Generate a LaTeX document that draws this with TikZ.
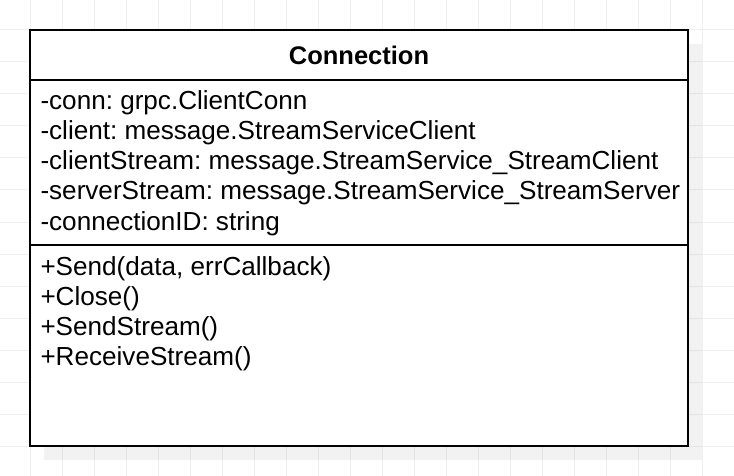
\documentclass[tikz,border=0pt]{standalone}
\usepackage{fontspec}
\setmainfont{Liberation Sans}
\usetikzlibrary{positioning}
\frenchspacing

\begin{document}
\begin{tikzpicture}[x=1pt,y=-1pt,
	every node/.style={inner sep=0pt,outer sep=0pt},
	member/.style={anchor=base west,font=\fontsize{26.1}{30}\selectfont},
	classname/.style={anchor=base,font=\fontsize{25.5}{30}\selectfont\bfseries}]
	%% page and background grid
	\useasboundingbox (0,0) rectangle (734,476);
	\fill[white] (0,0) rectangle (734,476);
	\foreach \g in {-2,30,...,734} {
		\draw[black!6,line width=1pt] (\g,0) -- (\g,476);
	}
	\foreach \g in {-2,30,...,478} {
		\draw[black!6,line width=1pt] (0,\g) -- (734,\g);
	}

	% shadow of the class box
	\fill[black,opacity=0.05] (44,44) rectangle (702,460);

	% class box
	\node[draw,fill=white,line width=2pt,minimum width=658pt,minimum height=416pt,anchor=north west] (conn) at (30,30) {};
	\coordinate (sepA) at (30,80);
	\coordinate (sepB) at (30,245);
	\draw[line width=2pt] (conn.west |- sepA) -- (conn.east |- sepA);
	\draw[line width=2pt] (conn.west |- sepB) -- (conn.east |- sepB);

	% name
	\node[classname] (title) at (359,65) {Connection};

	% fields
	\foreach \txt [count=\i] in {-conn: grpc.ClientConn,
		-client: message.StreamServiceClient,
		-clientStream: message.StreamService\_StreamClient,
		-serverStream: message.StreamService\_StreamServer,
		-connectionID: string}
		\node[member] (field\i) at (40.5,80+30*\i) {\txt};

	% methods
	\foreach \txt [count=\i] in {{+Send(data, errCallback)},
		+Close(),
		+SendStream(),
		+ReceiveStream()}
		\node[member] (method\i) at (40.5,245+30*\i) {\txt};
\end{tikzpicture}
\end{document}
